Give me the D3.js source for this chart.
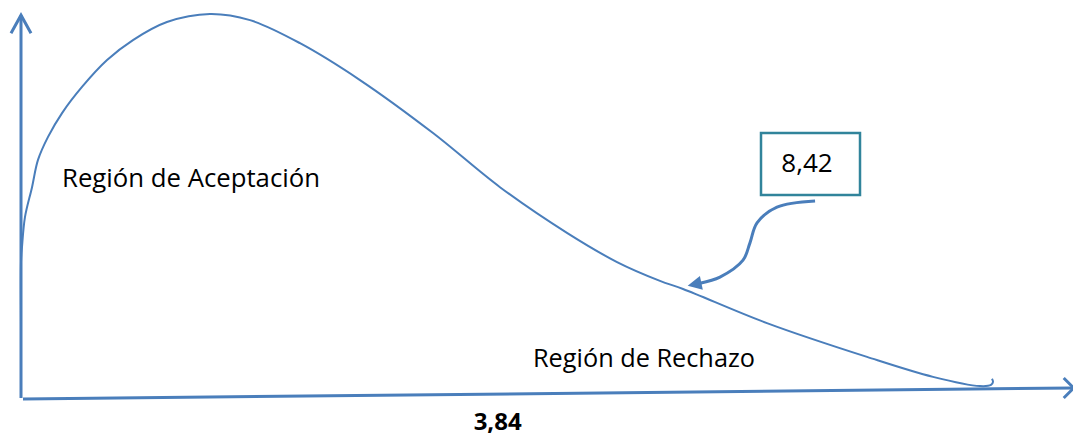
<!DOCTYPE html>
<html>
<head>
<meta charset="utf-8">
<script src="https://cdn.jsdelivr.net/npm/d3@7"></script>
<style>
  html, body { margin: 0; padding: 0; background: #fff; }
  svg { display: block; }
  text { font-family: "Open Sans", "Noto Sans", sans-serif; fill: #000; }
</style>
</head>
<body>
<div id="chart"></div>
<script>
// curve (x in chi-square units, y as share of the peak)
const curveX = [0, 0, 0, 0.008, 0.032, 0.089, 0.137, 0.218, 0.331, 0.492, 0.694, 0.903, 1.177, 1.524, 1.847, 2.25, 2.734, 3.323, 3.863, 4.403, 4.807, 5.153, 5.339, 6.016, 6.823, 7.355, 7.734, 7.823, 7.839, 7.831];
const curveY = [0.008, 0.177, 0.354, 0.393, 0.471, 0.549, 0.62, 0.68, 0.742, 0.81, 0.88, 0.932, 0.979, 1.0, 0.984, 0.924, 0.828, 0.69, 0.549, 0.43, 0.354, 0.305, 0.284, 0.195, 0.107, 0.055, 0.031, 0.034, 0.042, 0.05];

// arrow from the box to the curve
const arrowX = [6.404, 6.097, 5.936, 5.879, 5.823, 5.637, 5.476];
const arrowY = [0.513, 0.497, 0.456, 0.404, 0.359, 0.315, 0.299];

const tickValues = [3.84];
const tickLabels = ["3,84"];
const critValue = "8,42";
const acceptLabel = "Región de Aceptación";
const rejectLabel = "Región de Rechazo";

const W = 1073, H = 437;
const BLUE = "#4a7ebb";
const TEAL = "#31849b";

const x = d3.scaleLinear().domain([0, 8.46]).range([21, 1070]);
const y = d3.scaleLinear().domain([0, 1]).range([398, 14]);

const svg = d3.select("#chart").append("svg")
  .attr("width", W)
  .attr("height", H);

const defs = svg.append("defs");
defs.append("marker")
  .attr("id", "head")
  .attr("viewBox", "0 0 10 10")
  .attr("refX", 1)
  .attr("refY", 5)
  .attr("markerUnits", "userSpaceOnUse")
  .attr("markerWidth", 15)
  .attr("markerHeight", 14)
  .attr("orient", "auto")
  .append("path")
  .attr("d", "M0,0 L10,5 L0,10 Z")
  .attr("fill", BLUE);

// y axis with open chevron
svg.append("line")
  .attr("x1", x(0)).attr("y1", y(0))
  .attr("x2", x(0)).attr("y2", y(0.997))
  .attr("stroke", BLUE).attr("stroke-width", 3);
svg.append("path")
  .attr("d", `M${x(0) - 10},${y(0.997) + 18} L${x(0)},${y(0.997)} L${x(0) + 10},${y(0.997) + 18}`)
  .attr("fill", "none").attr("stroke", BLUE).attr("stroke-width", 3);

// x axis, drawn slightly tilted as in the sketch
const xEnd = 8.49, yEnd = 0.026;
svg.append("line")
  .attr("x1", x(0) + 2).attr("y1", y(0) + 1)
  .attr("x2", x(xEnd)).attr("y2", y(yEnd))
  .attr("stroke", BLUE).attr("stroke-width", 3);
svg.append("path")
  .attr("d", `M${x(xEnd) - 10},${y(yEnd) - 10} L${x(xEnd)},${y(yEnd)} L${x(xEnd) - 10},${y(yEnd) + 10}`)
  .attr("fill", "none").attr("stroke", BLUE).attr("stroke-width", 3);

// tick label under the axis
const xAxis = d3.axisBottom(x)
  .tickValues(tickValues)
  .tickSize(0)
  .tickFormat((d, i) => tickLabels[i]);
const gx = svg.append("g")
  .attr("transform", `translate(0,${y(0) + 29})`)
  .call(xAxis);
gx.select(".domain").remove();
gx.selectAll("text")
  .attr("dy", 0)
  .style("font-family", "'Open Sans', sans-serif")
  .style("font-size", "24px")
  .style("font-weight", "bold")
  .attr("fill", "#000");

// density curve
const pts = curveX.map((d, i) => [d, curveY[i]]);
const line = d3.line()
  .x((d) => x(d[0]))
  .y((d) => y(d[1]))
  .curve(d3.curveCatmullRom.alpha(0.5));
svg.append("path")
  .attr("d", line(pts))
  .attr("fill", "none")
  .attr("stroke", BLUE)
  .attr("stroke-width", 2);

// labels
svg.append("text")
  .attr("x", 62).attr("y", 187)
  .attr("font-size", 26)
  .attr("textLength", 258)
  .attr("lengthAdjust", "spacingAndGlyphs")
  .text(acceptLabel);

svg.append("text")
  .attr("x", 533).attr("y", 367)
  .attr("font-size", 26)
  .attr("textLength", 222)
  .attr("lengthAdjust", "spacingAndGlyphs")
  .text(rejectLabel);

// box with the statistic
svg.append("rect")
  .attr("x", 761).attr("y", 133)
  .attr("width", 99).attr("height", 62)
  .attr("fill", "#fff")
  .attr("stroke", TEAL)
  .attr("stroke-width", 2.5);
svg.append("text")
  .attr("x", 807).attr("y", 172)
  .attr("text-anchor", "middle")
  .attr("font-size", 26)
  .text(critValue);

// curved arrow
const arrowPts = arrowX.map((d, i) => [d, arrowY[i]]);
svg.append("path")
  .attr("d", line(arrowPts))
  .attr("fill", "none")
  .attr("stroke", BLUE)
  .attr("stroke-width", 3)
  .attr("marker-end", "url(#head)");
</script>
</body>
</html>
